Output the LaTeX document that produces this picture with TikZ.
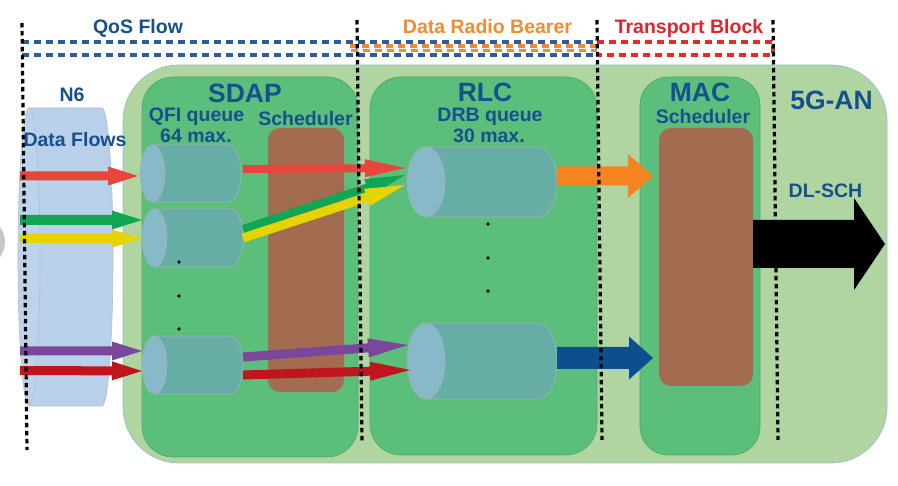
\documentclass[tikz,border=0pt]{standalone}
\usepackage{fontspec}
\setmainfont{Liberation Sans}
\usetikzlibrary{calc}
\definecolor{outerg}{HTML}{B0D5A0}
\definecolor{outeredge}{HTML}{9DC2CC}
\definecolor{midg}{HTML}{5BBE7B}
\definecolor{midedge}{HTML}{4FA86E}
\definecolor{brownbox}{HTML}{A36B50}
\definecolor{cylbody}{HTML}{66ADA5}
\definecolor{cylface}{HTML}{87B9C9}
\definecolor{nbody}{HTML}{B9D0EA}
\definecolor{nface}{HTML}{BDD3EC}
\definecolor{tblue}{HTML}{15508F}
\definecolor{torange}{HTML}{F08C32}
\definecolor{tred}{HTML}{E3232C}
\definecolor{dblue}{HTML}{2D5C9C}
\definecolor{dorange}{HTML}{EE8A35}
\definecolor{dred}{HTML}{E52A2F}
\definecolor{ared}{HTML}{E8453C}
\definecolor{agreen}{HTML}{12A554}
\definecolor{ayellow}{HTML}{E6D400}
\definecolor{apurple}{HTML}{7B479C}
\definecolor{adred}{HTML}{C0151F}
\definecolor{aorange}{HTML}{F5831F}
\definecolor{ablue}{HTML}{0B4F8F}
\newcommand\hcyl[8]{%
 \pgfmathsetmacro\hcc{(#3+#5)/2}%
 \pgfmathsetmacro\hcr{(#5-#3)/2}%
 \pgfmathsetmacro\hcl{#2+#6}%
 \pgfmathsetmacro\hcrr{#4-#6}%
 \filldraw[fill=#7, draw=#8!70!black!60, line width=0.6pt] (\hcl,#3) -- (\hcrr,#3) arc[start angle=90, end angle=-90, x radius=#6pt, y radius=\hcr*1pt] -- (\hcl,#5) -- cycle;
 \filldraw[fill=#8, draw=#8!70!black!60, line width=0.6pt] (\hcl,\hcc) ellipse[x radius=#6pt, y radius=\hcr*1pt];
 \coordinate (#1-w) at (#2,\hcc);
 \coordinate (#1-e) at (#4,\hcc);
}
\newcommand\barrow[6]{%
 \coordinate (bah) at ($(#3)!#6pt!(#2)$);
 \fill[#1] ($(#2)!#4pt!90:(#3)$) -- ($(bah)!#4pt!90:(#3)$) -- ($(bah)!#5pt!90:(#3)$) -- (#3) -- ($(bah)!#5pt!-90:(#3)$) -- ($(bah)!#4pt!-90:(#3)$) -- ($(#2)!#4pt!-90:(#3)$) -- cycle;
}
\tikzset{
 lbl/.style={font=\bfseries\fontsize{19.5}{20}\selectfont, text=tblue, inner sep=0pt, anchor=base},
 big/.style={lbl, font=\bfseries\fontsize{26.5}{28}\selectfont},
 layer/.style={fill=midg, draw=midedge, line width=0.6pt, rounded corners=31pt},
 sched/.style={fill=brownbox, rounded corners=12pt},
 dashln/.style={line width=3.2pt, dash pattern=on 7pt off 5pt},
 dotln/.style={line width=3.2pt, black, dash pattern=on 4.5pt off 3.5pt},
}
\begin{document}
\begin{tikzpicture}[x=1pt,y=-1pt]
\useasboundingbox (0,0) rectangle (898,486);
\clip (0,0) rectangle (898,486);
\fill[white] (0,0) rectangle (898,486);
% grey circle at left edge
\fill[black!22] (-20,242) circle[radius=25pt];
% 5G-AN
\filldraw[fill=outerg, draw=outeredge, line width=0.8pt, rounded corners=56pt] (123,65) rectangle (887,463);
% layers
\filldraw[layer] (142,77) rectangle (358,457);
\filldraw[layer] (370,77) rectangle (597,455);
\filldraw[layer, rounded corners=28pt] (640,77) rectangle (760,455);
\fill[sched] (268,128) rectangle (344,392);
\fill[sched] (659,128) rectangle (753,386);
% N6 cylinder
\hcyl{n6c}{18}{108}{113}{406}{11}{nbody}{nface}
% SDAP queues
\hcyl{qa}{140}{145}{241}{202}{12.5}{cylbody}{cylface}
\hcyl{qb}{142}{209}{243}{267}{12.5}{cylbody}{cylface}
\hcyl{qc}{142}{336}{243}{394}{12.5}{cylbody}{cylface}
% RLC queues
\hcyl{ra}{407}{147}{557}{217}{19}{cylbody}{cylface}
\hcyl{rb}{407}{323}{557}{399}{19}{cylbody}{cylface}
% dots
\foreach \yy in {262,296,329} \fill (179,\yy) circle[radius=1.8pt];
\foreach \yy in {224,258,291} \fill (488,\yy) circle[radius=1.8pt];
% arrow end points
\coordinate (in1) at (20,176);
\coordinate (in2) at (20,220);
\coordinate (in3) at (20,238.5);
\coordinate (in4) at (20,351);
\coordinate (in5) at (20,370.5);
\coordinate (qa1) at (138,176);
\coordinate (qb1) at (142,220);
\coordinate (qb2) at (142,238.5);
\coordinate (qc1) at (142,351);
\coordinate (qc2) at (142,371);
\coordinate (s1) at (243,169);
\coordinate (s2) at (243,229);
\coordinate (s3) at (243,238);
\coordinate (s4) at (243,357);
\coordinate (s5) at (243,375);
\coordinate (r1) at (405,168);
\coordinate (r2) at (405,175);
\coordinate (r3) at (405,185);
\coordinate (r4) at (408,345);
\coordinate (r5) at (410,370);
\coordinate (o1) at (557,176);
\coordinate (m1) at (653,176);
\coordinate (o2) at (557,358);
\coordinate (m2) at (653,358);
\coordinate (k1) at (753,244);
\coordinate (k2) at (885,244);
% input arrows
\barrow{ared}{in1}{qa1}{4.5}{9.5}{30}
\barrow{agreen}{in2}{qb1}{5}{9.5}{30}
\barrow{ayellow}{in3}{qb2}{4.5}{9}{30}
\barrow{apurple}{in4}{qc1}{4.5}{9.5}{30}
\barrow{adred}{in5}{qc2}{4.5}{9.5}{30}
% SDAP -> RLC
\barrow{ared}{s1}{r1}{4}{9}{40}
\barrow{agreen}{s2}{r2}{4}{9}{40}
\barrow{ayellow}{s3}{r3}{4.5}{9}{40}
\barrow{apurple}{s4}{r4}{4.5}{9.5}{40}
\barrow{adred}{s5}{r5}{4.5}{9.5}{40}
% RLC -> MAC
\barrow{aorange}{o1}{m1}{9.5}{22}{25}
\barrow{ablue}{o2}{m2}{11}{21.5}{24}
% DL-SCH
\barrow{black}{k1}{k2}{24}{46}{31}
% dashed brackets
\draw[dashln, dblue] (22,42) -- (597,42);
\draw[dashln, dblue] (22,55) -- (597,55);
\draw[dashln, dorange] (597,46) -- (350,46) -- (350,50.5) -- (597,50.5);
\draw[dashln, dred] (597,42) -- (773,42) -- (773,55) -- (597,55);
% dotted separators
\coordinate (d1t) at (22,23);  \coordinate (d1b) at (27,450);
\coordinate (d2t) at (357,20); \coordinate (d2b) at (362,442);
\coordinate (d3t) at (597,20); \coordinate (d3b) at (602,440);
\coordinate (d4t) at (773,20); \coordinate (d4b) at (778,440);
\draw[dotln] (d1t) -- (d1b);
\draw[dotln] (d2t) -- (d2b);
\draw[dotln] (d3t) -- (d3b);
\draw[dotln] (d4t) -- (d4b);
% labels
\node[lbl] (qos) at (138,34) {QoS Flow};
\node[lbl, text=torange] (drb) at (487.5,34) {Data Radio Bearer};
\node[lbl, text=tred] (tb) at (689,34) {Transport Block};
\node[lbl] (n6) at (72,102) {N6};
\node[lbl] (df) at (75,147) {Data Flows};
\node[big] (sdap) at (245,103) {SDAP};
\node[lbl] (qfi) at (196.5,122) {QFI queue};
\node[lbl] (q64) at (196,143) {64 max.};
\node[lbl] (sch1) at (305.5,126) {Scheduler};
\node[big] (rlc) at (485,102) {RLC};
\node[lbl] (drbq) at (490,122) {DRB queue};
\node[lbl] (r30) at (489,143) {30 max.};
\node[big] (mac) at (700,102) {MAC};
\node[lbl] (sch2) at (703,124) {Scheduler};
\node[big] (an) at (831.5,110) {5G-AN};
\node[lbl] (dl) at (825.5,198) {DL-SCH};
\end{tikzpicture}
\end{document}
